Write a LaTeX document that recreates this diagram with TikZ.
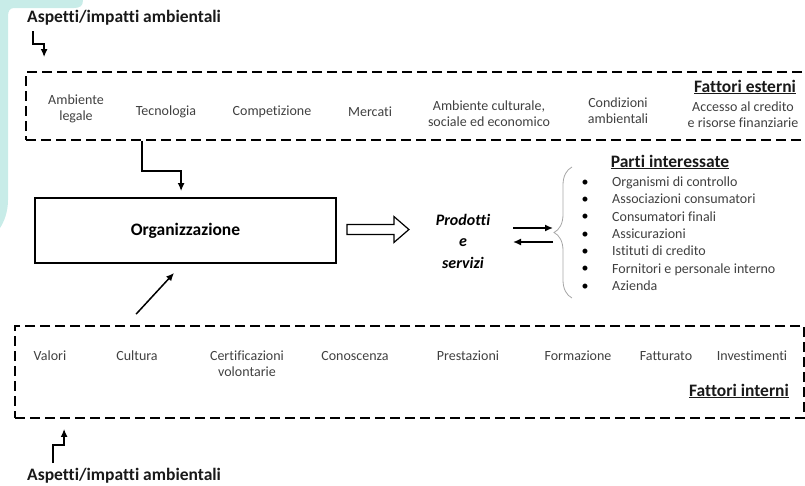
\documentclass[tikz,border=0pt]{standalone}
\usepackage{fontspec}
\setmainfont{Carlito}[Ligatures=NoCommon]
\usetikzlibrary{arrows.meta,decorations.pathreplacing}
\definecolor{labelgray}{RGB}{64,64,64}
\definecolor{slideteal}{RGB}{200,236,232}

\begin{document}
\begin{tikzpicture}[x=1pt, y=-1pt,
    >={Latex[length=8pt,width=7pt]},
    lbl/.style={text=labelgray, font=\fontsize{14}{16}\selectfont, align=center, inner sep=0pt},
    item/.style={lbl, anchor=west, text height=10pt, text depth=3pt},
    head/.style={text=black!90, font=\fontsize{17.5}{20}\selectfont\bfseries, inner sep=0pt},
    dashbox/.style={draw, line width=1.8pt, dash pattern=on 10pt off 5pt, inner sep=0pt},
    arr/.style={->, line width=1.5pt}]

      \useasboundingbox (0, 0) rectangle (805, 485);
      \clip (0, 0) rectangle (805, 485);

      % Slide background in the corner
      \fill[slideteal] (0, 0) -- (83, 0) .. controls (83, 6) and (80, 8) .. (74, 8)
        -- (14, 8) .. controls (10, 8) and (8, 11) .. (8, 16) -- (8, 200)
        .. controls (8, 212) and (4, 222) .. (0, 228) -- cycle;

      % Draw the external factors
      \node[head, anchor=west] (aspTop) at (27, 18) {Aspetti/impatti ambientali};
      \node[dashbox, minimum width=789pt, minimum height=68pt] (ext) at (420.5, 106) {};
      \node[lbl] (legale) at (76, 109) {Ambiente\\legale};
      \node[lbl] (tecno) at (166, 112) {Tecnologia};
      \node[lbl] (compet) at (272, 112) {Competizione};
      \node[lbl] (mercati) at (370, 112) {Mercati};
      \node[lbl] (sociale) at (489, 114) {Ambiente culturale,\\sociale ed economico};
      \node[lbl] (condiz) at (618, 111) {Condizioni\\ambientali};
      \node[lbl] (credito) at (743, 115) {Accesso al credito\\e risorse finanziarie};
      \node[head] (fatEst) at (745, 87) {\underline{Fattori esterni}};

      % Add the arrow from the heading to the box
      \coordinate (topStart) at (33, 31);
      \draw[arr, shorten >=14pt] (topStart) -- ++(0, 13) -| ([xshift=19pt]ext.north west);

      % Draw the organisation and its products
      \node[draw, line width=1.8pt, minimum width=301pt, minimum height=65pt,
        font=\fontsize{17.5}{20}\selectfont\bfseries] (org) at (185.5, 230.5) {Organizzazione};
      \draw[arr, shorten >=6pt] ([xshift=117pt]ext.south west) -- ++(0, 30)
        -| ([xshift=147pt]org.north west);
      \draw[line width=1.2pt] ([xshift=10pt, yshift=6pt]org.east) -- ++(47, 0) -- ++(0, -8)
        -- ++(15, 13) -- ++(-15, 13) -- ++(0, -8) -- ++(-47, 0) -- cycle;
      \node[font=\fontsize{16}{21.5}\selectfont\bfseries\itshape, align=center,
        inner sep=0pt] (prod) at (463, 241) {Prodotti\\e\\servizi};

      % Draw the brace and the interested parties
      \coordinate (braceTip) at (553, 235);
      \draw[arr] ([xshift=50pt, yshift=13pt]prod.center) -- ([yshift=7pt]braceTip);
      \draw[arr] ([yshift=-7pt]braceTip) -- ([xshift=50pt, yshift=-1pt]prod.center);
      \draw[decorate, decoration={brace, amplitude=18pt}, gray!70, line width=0.8pt]
        (572, 298) -- (572, 167);
      \node[head] (parti) at (670, 162) {\underline{Parti interessate}};
      \foreach \itm [count=\i] in {Organismi di controllo, Associazioni consumatori,
        Consumatori finali, Assicurazioni, Istituti di credito,
        Fornitori e personale interno, Azienda} {
        \node[lbl, text=black] (bul\i) at (585, {165.7 + 17.3*\i}) {\textbullet};
        \node[item] (part\i) at (612, {165.7 + 17.3*\i}) {\itm};
      }

      % Draw the internal factors
      \node[dashbox, minimum width=789pt, minimum height=92pt] (int) at (409.5, 372) {};
      \node[lbl] (valori) at (50, 356) {Valori};
      \node[lbl] (cultura) at (137, 356) {Cultura};
      \node[lbl] (certif) at (247, 364) {Certificazioni\\volontarie};
      \node[lbl] (conosc) at (355, 356) {Conoscenza};
      \node[lbl] (prest) at (468, 356) {Prestazioni};
      \node[lbl] (formaz) at (578, 356) {Formazione};
      \node[lbl] (fattur) at (666, 356) {Fatturato};
      \node[lbl] (invest) at (752, 356) {Investimenti};
      \node[head] (fatInt) at (739, 391) {\underline{Fattori interni}};
      \draw[arr] ([xshift=122pt, yshift=11pt]int.north west)
        -- ([xshift=140pt, yshift=-9pt]org.south west);

      % Add the bottom heading and its arrow
      \node[head, anchor=west] (aspBot) at (27, 476) {Aspetti/impatti ambientali};
      \coordinate (botStart) at (53, 463);
      \draw[arr, shorten >=10pt] (botStart) -- ++(0, -18) -| ([xshift=50pt]int.south west);
\end{tikzpicture}
\end{document}
